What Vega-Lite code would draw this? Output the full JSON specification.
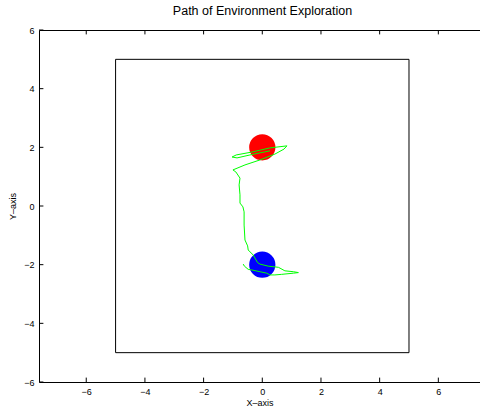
{
  "$schema": "https://vega.github.io/schema/vega-lite/v6.json",
  "autosize": "none",
  "width": 441,
  "height": 352,
  "padding": {"left": 39, "top": 30, "right": 0, "bottom": 27},
  "background": "white",
  "config": {
    "view": {"stroke": null},
    "font": "Liberation Sans",
    "axis": {"grid": false, "domainColor": "black", "tickColor": "black", "labelColor": "black", "titleColor": "black", "labelFont": "Liberation Sans", "titleFont": "Liberation Sans", "labelFontSize": 9, "titleFontSize": 9, "titleFontWeight": "normal", "domainWidth": 1, "tickWidth": 1}
  },
  "title": {"text": "Path of Environment Exploration", "font": "Liberation Sans", "fontSize": 12.5, "fontWeight": "normal", "color": "black", "offset": 9, "dx": 3},
  "datasets": {
    "box": [{"x1": -5, "x2": 5, "y1": -5, "y2": 5}],
    "tickvals": [{"v": -6}, {"v": -4}, {"v": -2}, {"v": 0}, {"v": 2}, {"v": 4}, {"v": 6}],
    "targets": [
      {"x": 0, "y": 2, "name": "red"},
      {"x": 0, "y": -2, "name": "blue"}
    ],
    "path": [
      {"i": 1, "x": 0.26, "y": 1.88},
      {"i": 2, "x": -0.42, "y": 1.74},
      {"i": 3, "x": -0.86, "y": 1.64},
      {"i": 4, "x": -1.03, "y": 1.67},
      {"i": 5, "x": -0.89, "y": 1.74},
      {"i": 6, "x": -0.35, "y": 1.84},
      {"i": 7, "x": 0.26, "y": 1.98},
      {"i": 8, "x": 0.84, "y": 2.05},
      {"i": 9, "x": 0.74, "y": 1.94},
      {"i": 10, "x": 0.43, "y": 1.77},
      {"i": 11, "x": -0.08, "y": 1.57},
      {"i": 12, "x": -0.59, "y": 1.4},
      {"i": 13, "x": -1.0, "y": 1.23},
      {"i": 14, "x": -0.9, "y": 1.16},
      {"i": 15, "x": -0.76, "y": 0.95},
      {"i": 16, "x": -0.79, "y": 0.72},
      {"i": 17, "x": -0.76, "y": 0.38},
      {"i": 18, "x": -0.76, "y": 0.1},
      {"i": 19, "x": -0.66, "y": -0.03},
      {"i": 20, "x": -0.62, "y": -0.2},
      {"i": 21, "x": -0.62, "y": -0.65},
      {"i": 22, "x": -0.59, "y": -1.16},
      {"i": 23, "x": -0.5, "y": -1.36},
      {"i": 24, "x": -0.48, "y": -1.5},
      {"i": 25, "x": -0.31, "y": -1.67},
      {"i": 26, "x": -0.16, "y": -1.93},
      {"i": 27, "x": -0.08, "y": -1.98},
      {"i": 28, "x": 0.2, "y": -2.05},
      {"i": 29, "x": 0.55, "y": -2.09},
      {"i": 30, "x": 0.77, "y": -2.21},
      {"i": 31, "x": 1.06, "y": -2.24},
      {"i": 32, "x": 1.23, "y": -2.27},
      {"i": 33, "x": 1.06, "y": -2.29},
      {"i": 34, "x": 0.66, "y": -2.33},
      {"i": 35, "x": 0.43, "y": -2.35},
      {"i": 36, "x": 0.26, "y": -2.35},
      {"i": 37, "x": 0.15, "y": -2.29},
      {"i": 38, "x": -0.08, "y": -2.24},
      {"i": 39, "x": -0.36, "y": -2.18},
      {"i": 40, "x": -0.48, "y": -2.16},
      {"i": 41, "x": -0.61, "y": -2.05},
      {"i": 42, "x": -0.65, "y": -1.98}
    ]
  },
  "layer": [
    {
      "data": {"name": "box"},
      "mark": {"type": "rect", "fill": null, "fillOpacity": 0, "stroke": "black", "strokeWidth": 1},
      "encoding": {
        "x": {"field": "x1", "type": "quantitative", "scale": {"domain": [-7.61, 7.42], "nice": false, "zero": false}, "axis": {"title": "X\u2013axis", "values": [-6, -4, -2, 0, 2, 4, 6], "format": "d", "labelExpr": "replace(datum.label, '-', '\u2212')", "ticks": false, "labelPadding": 5, "titlePadding": 2}},
        "x2": {"field": "x2"},
        "y": {"field": "y1", "type": "quantitative", "scale": {"domain": [-6, 6], "nice": false, "zero": false}, "axis": {"title": "Y\u2013axis", "values": [-6, -4, -2, 0, 2, 4, 6], "format": "d", "labelExpr": "replace(datum.label, '-', '\u2212')", "ticks": false, "labelPadding": 5, "titlePadding": 6}},
        "y2": {"field": "y2"}
      }
    },
    {
      "data": {"name": "box"},
      "mark": {"type": "rule", "stroke": "black"},
      "encoding": {
        "x": {"field": "x1", "type": "quantitative", "axis": {"orient": "top", "title": null, "labels": false, "ticks": false, "domain": true}},
        "opacity": {"value": 0}
      }
    },
    {
      "data": {"name": "tickvals"},
      "mark": {"type": "rule", "color": "black", "strokeWidth": 1},
      "encoding": {
        "x": {"field": "v", "type": "quantitative", "axis": null},
        "y": {"datum": -6, "type": "quantitative", "axis": null},
        "y2": {"datum": -5.85}
      }
    },
    {
      "data": {"name": "tickvals"},
      "mark": {"type": "rule", "color": "black", "strokeWidth": 1},
      "encoding": {
        "x": {"field": "v", "type": "quantitative", "axis": null},
        "y": {"datum": 6, "type": "quantitative", "axis": null},
        "y2": {"datum": 5.85}
      }
    },
    {
      "data": {"name": "tickvals"},
      "mark": {"type": "rule", "color": "black", "strokeWidth": 1},
      "encoding": {
        "y": {"field": "v", "type": "quantitative", "axis": null},
        "x": {"datum": -7.61, "type": "quantitative", "axis": null},
        "x2": {"datum": -7.46}
      }
    },
    {
      "data": {"name": "targets"},
      "mark": {"type": "point", "shape": "circle", "filled": true, "opacity": 1, "size": 690},
      "encoding": {
        "x": {"field": "x", "type": "quantitative", "axis": null},
        "y": {"field": "y", "type": "quantitative", "axis": null},
        "color": {"field": "name", "type": "nominal", "scale": {"domain": ["red", "blue"], "range": ["#ff0000", "#0000ff"]}, "legend": null}
      }
    },
    {
      "data": {"name": "path"},
      "mark": {"type": "line", "color": "#00ff00", "strokeWidth": 1, "interpolate": "linear"},
      "encoding": {
        "x": {"field": "x", "type": "quantitative", "axis": null},
        "y": {"field": "y", "type": "quantitative", "axis": null},
        "order": {"field": "i", "type": "quantitative"}
      }
    }
  ],
  "resolve": {"axis": {"x": "independent", "y": "independent"}}
}
